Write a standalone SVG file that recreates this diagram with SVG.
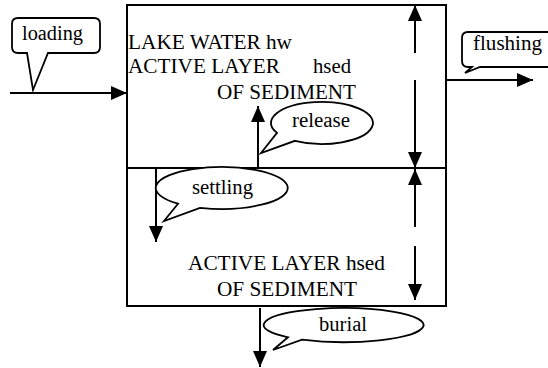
<svg xmlns="http://www.w3.org/2000/svg" width="548" height="368" viewBox="0 0 548 368">
<style>
.box{fill:none;stroke:#000;stroke-width:2}
.call{fill:#fff;stroke:#000;stroke-width:1.8;stroke-linejoin:miter}
.t{font-family:"Liberation Serif","Times New Roman",serif;font-size:20px;fill:#000}
.conn{stroke:#000;stroke-width:2;fill:none;marker-end:url(#ah)}
</style>
<defs>
<marker id="ah" markerUnits="userSpaceOnUse" markerWidth="16" markerHeight="14" refX="16" refY="7" orient="auto" viewBox="0 0 16 14">
<path d="M0,0 L16,7 L0,14 Z" fill="#000"/>
</marker>
</defs>
<rect width="548" height="368" fill="#fff"/>
<g id="lake-water">
<rect class="box" x="127" y="5" width="319" height="163"/>
<text class="t" x="128" y="49" textLength="164" lengthAdjust="spacingAndGlyphs">LAKE WATER hw</text>
<text class="t" x="128" y="73" textLength="152" lengthAdjust="spacingAndGlyphs">ACTIVE LAYER</text>
<text class="t" x="313" y="73" textLength="38" lengthAdjust="spacingAndGlyphs">hsed</text>
<text class="t" x="217" y="99" textLength="139" lengthAdjust="spacingAndGlyphs">OF SEDIMENT</text>
</g>
<g id="sediment">
<rect class="box" x="127" y="168" width="319" height="138"/>
<text class="t" x="188" y="270" textLength="197" lengthAdjust="spacingAndGlyphs">ACTIVE LAYER hsed</text>
<text class="t" x="217" y="296" textLength="140" lengthAdjust="spacingAndGlyphs">OF SEDIMENT</text>
</g>
<g id="connectors">
<path class="conn" d="M10 93 H127"/>
<path class="conn" d="M446 80 H533"/>
<path class="conn" d="M415 53 V5"/>
<path class="conn" d="M415 80 V168"/>
<path class="conn" d="M415 227 V169"/>
<path class="conn" d="M415 246 V300"/>
<path class="conn" d="M258 168 V106"/>
<path class="conn" d="M156 168 V242"/>
<path class="conn" d="M260 308 V367"/>
</g>
<g id="loading">
<path class="call" d="M18 18 H94 Q100 18 100 24 V47 Q100 53 94 53 H48 L33 90 L27 53 H18 Q12 53 12 47 V24 Q12 18 18 18 Z"/>
<text class="t" x="22" y="40" textLength="61" lengthAdjust="spacingAndGlyphs">loading</text>
</g>
<g id="flushing">
<path class="call" d="M556 32 H468 Q462 32 462 38 V61 Q462 67 468 67 H472 L465 73 L480 67 H556"/>
<text class="t" x="473" y="50" textLength="69" lengthAdjust="spacingAndGlyphs">flushing</text>
</g>
<g id="release">
<path class="call" d="M295 140.8 A51 21 0 1 0 277 132.9 L261 153 Z"/>
<text class="t" x="292" y="127" textLength="58" lengthAdjust="spacingAndGlyphs">release</text>
</g>
<g id="settling">
<path class="call" d="M200 207.8 A66 21 0 1 0 178 203.7 L164 221 Z"/>
<text class="t" x="192" y="194" textLength="61" lengthAdjust="spacingAndGlyphs">settling</text>
</g>
<g id="burial">
<path class="call" d="M302 339.6 A80 17 0 1 0 288 337.3 L273 350 Z"/>
<text class="t" x="319" y="331" textLength="48" lengthAdjust="spacingAndGlyphs">burial</text>
</g>
</svg>
